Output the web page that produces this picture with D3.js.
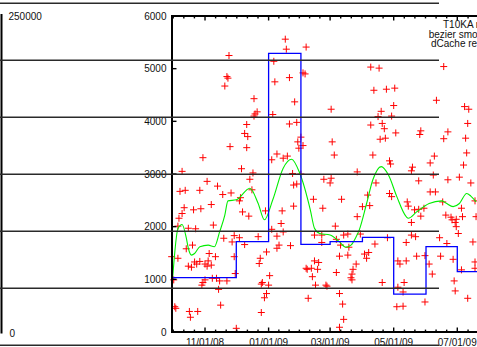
<!DOCTYPE html>
<html>
<head>
<meta charset="utf-8">
<script src="https://cdn.jsdelivr.net/npm/d3@7"></script>
<style>
  html, body { margin: 0; padding: 0; background: #fff; }
  svg { display: block; }
  text { font-family: "Liberation Sans", Arial, sans-serif; font-size: 10px; fill: #111; }
</style>
</head>
<body>
<div id="chartBox"></div>
<script>
(function () {
  'use strict';

  // daily samples [day, value]
  var samples = [
    ["2008-11-24",5250],["2009-01-17",5560],["2009-01-18",5370],["2009-02-06",5410],["2009-01-06",5140],
    ["2008-11-22",4850],["2008-11-23",4820],["2008-11-20",4670],["2009-01-07",4750],["2009-01-21",4830],
    ["2009-02-03",4920],["2009-02-05",4900],["2008-12-18",4430],["2009-01-26",4370],["2008-12-21",4180],
    ["2008-12-19",4140],["2008-12-18",4100],["2009-01-05",4130],["2009-04-09",5030],["2009-04-17",5010],
    ["2009-06-18",5040],["2009-04-12",4590],["2009-04-24",4610],["2009-05-02",4630],["2009-06-11",4400],
    ["2009-03-02",4230],["2009-04-19",4190],["2009-05-01",4300],["2009-04-16",4090],["2009-04-29",4100],
    ["2009-07-08",4280],["2009-07-12",4230],
    ["2008-12-11",3940],["2008-12-09",3770],["2008-12-12",3710],["2008-12-11",3500],["2008-11-25",3520],
    ["2008-10-30",3310],["2008-10-10",3050],["2008-12-06",3100],["2008-12-17",3020],["2008-12-14",2900],
    ["2008-11-03",2860],["2008-11-13",2770],["2008-10-08",2670],["2008-10-13",2690],["2008-10-27",2690],
    ["2008-11-18",2610],["2008-11-26",2640],["2008-12-16",2700],["2008-12-05",2550],["2008-12-04",2490],
    ["2008-11-07",2420],["2008-10-12",2360],["2008-10-21",2320],["2008-10-28",2340],["2008-10-10",2250],
    ["2008-10-07",2160],["2008-12-07",2280],["2008-12-13",2200],["2008-12-29",2300],["2008-11-09",2030],
    ["2008-10-06",2010],["2008-10-16",1970],["2008-10-23",1960],["2008-11-29",1830],["2008-12-04",1790],
    ["2008-11-19",1780],["2008-12-22",1810],["2009-01-04",1950],["2009-01-09",1820],["2009-01-15",1900],
    ["2009-01-13",2060],["2009-01-14",2300],["2009-01-25",2390],["2009-01-04",3270],["2009-01-09",3380],
    ["2009-01-15",3300],["2009-01-19",3340],["2009-01-21",3950],["2009-01-28",3980],["2009-01-29",3610],
    ["2009-01-30",3490],["2009-02-01",3700],["2009-02-03",3540],["2009-01-24",3010],["2009-01-28",2810],
    ["2009-01-25",2790],["2009-02-01",3000],
    ["2009-04-09",3930],["2009-04-20",3960],["2009-04-22",3860],["2009-05-03",3780],["2009-04-18",3660],
    ["2009-04-23",3680],["2009-05-27",3820],["2009-05-26",3750],["2009-06-18",3670],["2009-06-22",3800],
    ["2009-07-11",3960],["2009-07-09",3680],["2009-07-10",3400],["2009-03-03",3610],["2009-03-05",3360],
    ["2009-04-11",3360],["2009-04-27",3250],["2009-04-28",3190],["2009-06-09",3340],["2009-06-05",3210],
    ["2009-07-07",3170],["2009-03-27",3040],["2009-05-19",3130],["2009-05-18",3060],["2009-06-08",2980],
    ["2009-02-23",2900],["2009-03-02",2920],["2009-03-01",2830],["2009-04-14",2830],["2009-05-25",2870],
    ["2009-06-22",2890],["2009-07-03",2940],["2009-07-14",2830],["2009-02-13",2520],["2009-03-12",2520],
    ["2009-04-06",2600],["2009-04-27",2630],["2009-04-29",2570],["2009-06-05",2660],["2009-06-10",2660],
    ["2009-05-14",2470],["2009-05-15",2390],["2009-02-22",2350],["2009-04-01",2380],["2009-04-08",2400],
    ["2009-05-21",2320],["2009-05-25",2330],["2009-05-30",2350],["2009-06-17",2470],["2009-07-05",2350],
    ["2009-07-18",2490],["2009-03-27",2190],["2009-05-27",2200],["2009-05-18",2080],["2009-07-06",2190],
    ["2009-06-20",2220],["2009-06-25",2180],["2009-06-26",2130],["2009-06-30",2140],["2009-06-29",2080],
    ["2009-06-30",2000],["2009-07-19",2190],["2009-03-06",2010],["2009-02-14",1840],["2009-02-21",1840],
    ["2009-03-30",1860],["2009-04-25",1790],["2009-05-18",1840],["2009-05-22",1810],["2009-06-14",1790],
    ["2008-11-27",1710],["2008-12-09",1660],["2009-01-11",1650],["2009-01-09",1590],["2009-01-22",1640],
    ["2008-10-20",1650],["2008-10-14",1580],["2008-09-30",1430],["2008-10-06",1400],["2008-11-05",1490],
    ["2008-11-11",1430],["2008-11-29",1430],["2008-11-04",1350],["2008-10-22",1330],["2008-10-27",1340],
    ["2008-12-30",1520],["2008-12-24",1400],["2008-12-23",1300],["2008-10-16",1250],["2008-10-19",1230],
    ["2008-10-24",1290],["2008-11-01",1290],["2008-11-03",1250],["2008-11-07",1270],["2008-11-30",1110],
    ["2009-01-02",1070],["2008-11-01",990],["2008-11-08",1020],["2008-11-12",1020],["2008-11-15",970],
    ["2008-11-22",970],["2008-10-30",940],["2008-10-29",890],["2008-12-26",940],["2008-12-25",910],
    ["2009-01-01",890],["2008-11-14",810],["2008-12-30",730],["2008-12-28",650],["2008-10-02",990],
    ["2008-10-03",480],["2008-10-04",450],["2008-11-16",510],["2008-10-17",390],["2008-10-25",390],
    ["2008-10-18",280],["2008-12-25",370],["2008-12-01",70],
    ["2009-02-06",1210],["2009-02-08",640],["2009-03-14",1840],["2009-03-18",1860],["2009-02-21",1700],
    ["2009-03-07",1760],["2009-03-11",1650],["2009-03-19",1610],["2009-07-02",1870],["2009-07-16",1710],
    ["2009-04-13",1670],["2009-05-13",1700],["2009-06-21",1680],["2009-03-10",1440],["2009-03-18",1460],
    ["2009-04-03",1480],["2009-04-07",1510],["2009-04-05",1400],["2009-05-23",1440],["2009-05-31",1450],
    ["2009-06-15",1440],["2009-06-27",1380],["2009-07-18",1330],["2009-02-07",1190],["2009-02-11",1210],
    ["2009-02-14",1350],["2009-02-18",1320],["2009-02-17",1190],["2009-02-12",1050],["2009-03-26",1290],
    ["2009-03-23",1190],["2009-03-22",1100],["2009-03-21",1030],["2009-03-22",990],["2009-03-07",1130],
    ["2009-05-05",1350],["2009-05-07",1290],["2009-05-13",1350],["2009-06-04",1290],["2009-06-07",1100],
    ["2009-07-05",1180],["2009-07-18",1210],["2009-02-15",890],["2009-02-25",890],["2009-02-26",870],
    ["2009-04-20",940],["2009-05-11",940],["2009-05-05",850],["2009-06-28",970],["2009-06-29",780],
    ["2009-05-10",760],["2009-07-11",640],["2009-03-10",730],["2009-03-13",530],["2009-05-04",480],
    ["2009-05-10",490],["2009-05-31",570],["2009-03-14",240],["2009-03-10",90]
  ];

  var smooth = [
    ["2008-10-01",1040],["2008-10-06",1960],["2008-10-10",2040],["2008-10-14",1790],["2008-10-16",1590],
    ["2008-10-19",1460],["2008-10-22",1490],["2008-10-27",1620],["2008-11-04",1650],["2008-11-10",1620],
    ["2008-11-15",1900],["2008-11-20",2220],["2008-11-23",2490],["2008-12-01",2510],["2008-12-14",2730],
    ["2008-12-22",2440],["2008-12-28",2130],["2009-01-05",2510],["2009-01-15",3110],["2009-01-23",3280],
    ["2009-01-31",3010],["2009-02-10",2320],["2009-02-14",1970],["2009-02-19",1870],["2009-03-01",1840],
    ["2009-03-10",1710],["2009-03-16",1610],["2009-03-21",1650],["2009-03-26",1810],["2009-03-29",1940],
    ["2009-04-05",2440],["2009-04-11",2890],["2009-04-19",3140],["2009-04-26",2980],["2009-05-04",2570],
    ["2009-05-13",2190],["2009-05-15",2160],["2009-05-23",2280],["2009-06-04",2440],["2009-06-16",2490],
    ["2009-06-20",2450],["2009-06-27",2380],["2009-07-03",2440],["2009-07-10",2630],["2009-07-14",2580],
    ["2009-07-19",2470]
  ];

  // dCache monthly rate (last value repeated to close the final step)
  var monthStarts = ["2008-10-01","2008-11-01","2008-12-01","2009-01-01","2009-02-01",
                     "2009-03-01","2009-04-01","2009-05-01","2009-06-01","2009-07-01","2009-08-01"];
  var monthlyRate = [1031, 1031, 1715, 5292, 1665, 1715, 1798, 721, 1620, 1145, 1145];

  var yTicks = [0, 1000, 2000, 3000, 4000, 5000, 6000];
  var xTickLabels = ["11/01/08", "01/01/09", "03/01/09", "05/01/09", "07/01/09"];
  var legendLabels = ["T10KA reads", "bezier smooth", "dCache reads"];
  var leftAxisLabels = ["250000", "0"];

  var outerWidth = 477,
      outerHeight = 347;

  var parse = d3.utcParse("%Y-%m-%d");

  var x = d3.scaleUtc()
    .domain([parse("2008-10-01"), parse("2009-08-01")])
    .range([172.7, 489.6]);
  var y = d3.scaleLinear().domain([0, 6000]).range([332, 16]);
  var leftY = d3.scaleLinear().domain([0, 250000]).range([333, 16]);

  var svg = d3.select("#chartBox").append("svg")
    .attr("width", outerWidth)
    .attr("height", outerHeight);

  // left neighbour plot (only its edge shows)
  svg.append("line")
    .attr("x1", 1.5).attr("x2", 1.5)
    .attr("y1", 14).attr("y2", 333.5)
    .style("stroke", "#000").style("stroke-width", 2);

  svg.selectAll(".leftlabel")
    .data([250000, 0])
    .enter().append("text")
    .attr("class", "leftlabel")
    .attr("x", function(d, i) { return i ? 9.5 : 8.5; })
    .attr("y", function(d) { return leftY(d); })
    .attr("dy", "0.35em")
    .text(function(d, i) { return leftAxisLabels[i]; });

  var plot = svg.append("g").attr("class", "plot");

  plot.selectAll(".pt")
    .data(samples)
    .enter().append("path")
    .attr("class", "pt")
    .attr("transform", function(d) {
      return "translate(" + x(parse(d[0])) + "," + y(d[1]) + ")";
    })
    .attr("d", "M-3.5,0H3.5M0,-3.5V3.5")
    .style("stroke", "#ff0000")
    .style("stroke-width", 1)
    .style("fill", "none");

  var smoothLine = d3.line()
    .curve(d3.curveMonotoneX)
    .x(function(d) { return x(parse(d[0])); })
    .y(function(d) { return y(d[1]); });

  plot.append("path")
    .datum(smooth)
    .attr("d", smoothLine)
    .style("stroke", "#00ee00")
    .style("stroke-width", 1.1)
    .style("fill", "none");

  var stepLine = d3.line()
    .curve(d3.curveStepAfter)
    .x(function(d) { return x(parse(d)); })
    .y(function(d, i) { return y(monthlyRate[i]); });

  plot.append("path")
    .datum(monthStarts)
    .attr("d", stepLine)
    .style("stroke", "#0000ff")
    .style("stroke-width", 1.3)
    .style("fill", "none");

  // border (right side is off the picture)
  var x0 = x.range()[0] - 0.7, x1 = x.range()[1];
  svg.append("path")
    .attr("d", "M" + x1 + "," + y(6000) + "H" + x0 + "V" + y(0) + "H" + x1)
    .style("stroke", "#000").style("stroke-width", 2)
    .style("fill", "none");

  // y ticks, inward
  svg.selectAll(".ytick")
    .data(yTicks)
    .enter().append("line")
    .attr("class", "ytick")
    .attr("x1", x0).attr("x2", x0 + 4.5)
    .attr("y1", function(d) { return y(d); })
    .attr("y2", function(d) { return y(d); })
    .style("stroke", "#000").style("stroke-width", 1.4);

  svg.selectAll(".ylabel")
    .data(yTicks)
    .enter().append("text")
    .attr("class", "ylabel")
    .attr("x", 166.5)
    .attr("y", function(d) { return y(d); })
    .attr("dy", "0.35em")
    .style("text-anchor", "end")
    .text(function(d) { return d; });

  // x ticks: majors every 2 months, 6 minor intervals in between
  var majors = d3.utcMonth.every(2).range(parse("2008-09-01"), parse("2009-10-01"));
  var minors = [];
  for (var i = 0; i < majors.length - 1; i++) {
    var a = +majors[i], b = +majors[i + 1];
    for (var k = 1; k < 6; k++) minors.push(new Date(a + (b - a) * k / 6));
  }
  var inView = function(d) { return x(d) > x0 + 1 && x(d) < outerWidth + 2; };
  var ticks = majors.filter(inView).map(function(d) { return { t: d, len: 4.5 }; })
    .concat(minors.filter(inView).map(function(d) { return { t: d, len: 2.4 }; }));

  [[y(0), -1], [y(6000), 1]].forEach(function(side) {
    svg.append("g").selectAll("line")
      .data(ticks)
      .enter().append("line")
      .attr("x1", function(d) { return x(d.t); })
      .attr("x2", function(d) { return x(d.t); })
      .attr("y1", side[0])
      .attr("y2", function(d) { return side[0] + side[1] * d.len; })
      .style("stroke", "#000").style("stroke-width", 1.4);
  });

  var labelled = majors.filter(inView);
  svg.selectAll(".xlabel")
    .data(labelled)
    .enter().append("text")
    .attr("class", "xlabel")
    .attr("x", function(d) { return x(d); })
    .attr("y", 346)
    .style("text-anchor", "middle")
    .text(function(d, i) { return xTickLabels[i]; });

  // key, cut off by the right edge
  var keyX = [443, 428.7, 431];
  svg.selectAll(".key")
    .data(legendLabels)
    .enter().append("text")
    .attr("class", "key")
    .attr("x", function(d, i) { return keyX[i]; })
    .attr("y", function(d, i) { return 24.5 + i * 9.5; })
    .attr("dy", "0.35em")
    .text(function(d) { return d; });

  // row rules running across the whole page
  var row = d3.scaleLinear().domain([0, 6]).range([3.3, 345.3]);
  svg.selectAll(".rule")
    .data(d3.range(7))
    .enter().append("line")
    .attr("class", "rule")
    .attr("x1", 0).attr("x2", 439)
    .attr("y1", function(d) { return row(d); })
    .attr("y2", function(d) { return row(d); })
    .style("stroke", "#2a2a2a").style("stroke-width", 1.4);

})();
</script>
</body>
</html>
